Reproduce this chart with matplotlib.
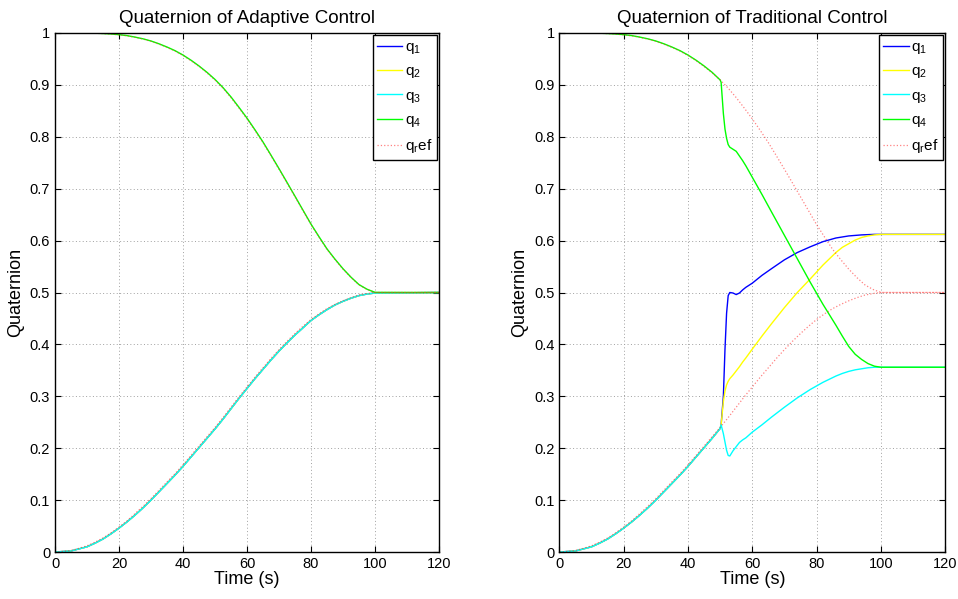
import matplotlib
matplotlib.use("Agg")
import matplotlib.pyplot as plt

plt.rcParams['font.family'] = ['Liberation Sans', 'DejaVu Sans']
plt.rcParams['mathtext.default'] = 'regular'

# reference trajectory, sampled every 2.5 s
t_ref = [0, 2.5, 5, 7.5, 10, 12.5, 15, 17.5, 20, 22.5, 25, 27.5, 30, 32.5, 35, 37.5, 40, 42.5,
         45, 47.5, 50, 52.5, 55, 57.5, 60, 62.5, 65, 67.5, 70, 72.5, 75, 77.5, 80, 82.5, 85,
         87.5, 90, 92.5, 95, 97.5, 100, 120]
ref_q123 = [0, 0.001, 0.003, 0.007, 0.012, 0.019, 0.027, 0.037, 0.048, 0.060,
            0.074, 0.088, 0.103, 0.119, 0.135, 0.151, 0.168, 0.186, 0.204, 0.222,
            0.240, 0.259, 0.279, 0.299, 0.318, 0.337, 0.355, 0.373, 0.390, 0.406,
            0.421, 0.435, 0.448, 0.459, 0.469, 0.477, 0.484, 0.490, 0.495, 0.498,
            0.500, 0.500]
ref_q4 = [1.000, 1.000, 1.000, 0.9999, 0.9998, 0.9995, 0.9989, 0.9979, 0.9965, 0.9946,
          0.9917, 0.9883, 0.984, 0.9785, 0.9723, 0.9652, 0.9567, 0.9467, 0.9355, 0.9231,
          0.9095, 0.8937, 0.8755, 0.8554, 0.8346, 0.8120, 0.7887, 0.7633, 0.7374, 0.7110,
          0.6843, 0.6575, 0.6308, 0.6066, 0.583, 0.5634, 0.545, 0.5289, 0.5148, 0.5060,
          0.500, 0.500]

# adaptive control (same time base as the reference)
ad_q123 = [0, 0.001, 0.002, 0.006, 0.010, 0.017, 0.025, 0.035, 0.046, 0.058,
           0.071, 0.085, 0.100, 0.116, 0.132, 0.148, 0.165, 0.183, 0.201, 0.219,
           0.237, 0.256, 0.276, 0.296, 0.315, 0.334, 0.352, 0.370, 0.387, 0.403,
           0.418, 0.432, 0.446, 0.457, 0.467, 0.476, 0.483, 0.489, 0.494, 0.497,
           0.499, 0.500]
ad_q4 = [1.000, 1.000, 1.000, 0.9999, 0.9999, 0.9996, 0.9990, 0.9981, 0.9968, 0.9950,
         0.9921, 0.9888, 0.9846, 0.9792, 0.9730, 0.9660, 0.9575, 0.9476, 0.9365, 0.9242,
         0.9105, 0.8948, 0.8768, 0.8567, 0.8360, 0.8134, 0.7900, 0.7646, 0.7387, 0.7122,
         0.6855, 0.6586, 0.6318, 0.6075, 0.5840, 0.5642, 0.5458, 0.5295, 0.5152, 0.5063,
         0.5003, 0.500]

# traditional control
tr_t = [0, 2.5, 5, 7.5, 10, 12.5, 15, 17.5, 20, 22.5, 25, 27.5, 30, 32.5, 35, 37.5, 40, 42.5,
        45, 47.5, 50, 50.3, 51, 51.5, 52, 52.5, 53, 54, 55, 56, 57, 58, 60, 63, 66, 70, 74,
        78, 82, 86, 88, 90, 92, 94, 96, 98, 100, 120]
tr_q1 = [0, 0.001, 0.002, 0.006, 0.010, 0.017, 0.025, 0.035, 0.046, 0.058,
         0.071, 0.085, 0.100, 0.116, 0.132, 0.148, 0.165, 0.183, 0.201, 0.219, 0.238,
         0.245, 0.30, 0.39, 0.46, 0.494, 0.500, 0.499, 0.496, 0.499, 0.505, 0.510, 0.518,
         0.533, 0.546, 0.563, 0.577, 0.588, 0.598, 0.605, 0.607, 0.609, 0.610, 0.611,
         0.6115, 0.612, 0.612, 0.612]
tr_q2 = [0, 0.001, 0.002, 0.006, 0.010, 0.017, 0.025, 0.035, 0.046, 0.058,
         0.071, 0.085, 0.100, 0.116, 0.132, 0.148, 0.165, 0.183, 0.201, 0.219, 0.238,
         0.245, 0.29, 0.31, 0.322, 0.329, 0.334, 0.341, 0.349, 0.357, 0.366, 0.374, 0.391,
         0.416, 0.440, 0.471, 0.500, 0.526, 0.553, 0.577, 0.587, 0.594, 0.601, 0.606,
         0.609, 0.611, 0.612, 0.612]
tr_q3 = [0, 0.001, 0.002, 0.006, 0.010, 0.017, 0.025, 0.035, 0.046, 0.058,
         0.071, 0.085, 0.100, 0.116, 0.132, 0.148, 0.165, 0.183, 0.201, 0.219, 0.238,
         0.245, 0.228, 0.212, 0.196, 0.186, 0.185, 0.195, 0.203, 0.211, 0.216, 0.220, 0.231,
         0.245, 0.260, 0.279, 0.297, 0.313, 0.327, 0.339, 0.344, 0.348, 0.351, 0.353,
         0.355, 0.356, 0.356, 0.356]
tr_q4 = [1.000, 1.000, 1.000, 0.9999, 0.9999, 0.9996, 0.9990, 0.9981, 0.9968, 0.9950,
         0.9921, 0.9888, 0.9846, 0.9792, 0.9730, 0.9660, 0.9575, 0.9476, 0.9365, 0.9242, 0.9095,
         0.905, 0.845, 0.815, 0.797, 0.785, 0.780, 0.776, 0.772, 0.763, 0.754, 0.744, 0.722,
         0.689, 0.655, 0.610, 0.565, 0.520, 0.477, 0.437, 0.416, 0.396, 0.381, 0.371,
         0.363, 0.358, 0.356, 0.356]

labels = ['q$_1$', 'q$_2$', 'q$_3$', 'q$_4$', 'q$_r$ef']
colors = ['#0000ff', '#ffff00', '#00ffff', '#00ff00']


def draw_panel(ax, t, qs, title):
    for q, c, lab in zip(qs, colors, labels):
        ax.plot(t, q, color=c, lw=1.0, label=lab)
    ax.plot(t_ref, ref_q123, color='#ff3030', ls=':', lw=0.9, alpha=0.6, label=labels[4])
    ax.plot(t_ref, ref_q4, color='#ff3030', ls=':', lw=0.9, alpha=0.6)
    ax.set_xlim(0, 120)
    ax.set_ylim(0, 1)
    ax.set_xticks(range(0, 121, 20))
    ax.set_yticks([i / 10 for i in range(11)])
    ax.set_yticklabels(['0', '0.1', '0.2', '0.3', '0.4', '0.5', '0.6', '0.7', '0.8', '0.9', '1'])
    ax.grid(True, ls=(0, (1, 2.5)), color='#a0a0a0', lw=0.7)
    ax.tick_params(direction='in', top=True, right=True, labelsize=10.5, length=4, width=0.8)
    for s in ax.spines.values():
        s.set_linewidth(1.0)
    ax.set_title(title, fontsize=13.5, pad=7)
    ax.set_xlabel('Time (s)', fontsize=13, labelpad=0)
    ax.set_ylabel('Quaternion', fontsize=13, labelpad=4)
    leg = ax.legend(loc='upper right', fontsize=11, fancybox=False, framealpha=1,
                    edgecolor='black', borderaxespad=0.15, handlelength=1.65,
                    labelspacing=0.55, handletextpad=0.15, borderpad=0.3)
    leg.get_frame().set_linewidth(1.0)


fig = plt.figure(figsize=(9.58, 5.99), dpi=100)
ax1 = fig.add_axes([55 / 958, 1 - 552 / 599, 384 / 958, 519 / 599])
ax2 = fig.add_axes([559.4 / 958, 1 - 552 / 599, 385.8 / 958, 519 / 599])

draw_panel(ax1, t_ref, [ad_q123, ad_q123, ad_q123, ad_q4], 'Quaternion of Adaptive Control')
draw_panel(ax2, tr_t, [tr_q1, tr_q2, tr_q3, tr_q4], 'Quaternion of Traditional Control')

plt.savefig('out.png', dpi=100)
plt.close()
